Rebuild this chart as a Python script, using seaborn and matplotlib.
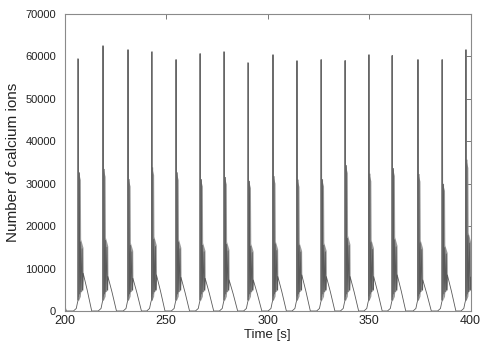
import numpy as np
import pandas as pd
import matplotlib
matplotlib.use("Agg")
import matplotlib.pyplot as plt
import seaborn as sns

# ---- data ----
peak_times = [206.8, 219.0, 231.3, 242.9, 255.0, 266.9, 278.7, 290.6, 302.7,
              314.5, 326.6, 338.3, 349.9, 361.5, 374.1, 386.2, 397.7]
peak_values = [59300, 62400, 61500, 61000, 59200, 60600, 61000, 58400, 60300,
               58900, 59200, 59000, 60300, 60200, 59200, 59200, 61500]
second_values = [32600, 33400, 31000, 33800, 32600, 31000, 31500, 30600, 31700,
                 30900, 31000, 34300, 32300, 33600, 32200, 29900, 35600]
tail_values = [8900, 8100, 7700, 8500, 7900, 7700, 7300, 7300, 8100,
               8500, 8100, 8100, 8100, 8500, 7300, 8500, 8000]

# remnant of the previous burst at the left edge
start_times = [200.0, 200.9]
start_values = [1600, 0]

# burst shape (offsets in s from each main spike)
rise_offsets = [-2.4, -1.0, -0.4, -0.05]
rise_values = [0, 600, 2000, 2600]
block_offsets = [0.1, 1.0, 1.15, 2.3]
block_upper_frac = [1.0, 0.95, 0.52, 0.46]
block_lower_values = [2500, 3500, 4500, 5000]
tail_offsets = [2.4, 3.4, 4.4, 5.4, 6.6]
tail_frac = [1.0, 0.78, 0.55, 0.30, 0.0]

x_ticks = [200, 250, 300, 350, 400]
y_ticks = [0, 10000, 20000, 30000, 40000, 50000, 60000, 70000]

# ---- build trace ----
ts, vs = list(start_times), list(start_values)
for tp, pv, sv, tv in zip(peak_times, peak_values, second_values, tail_values):
    for o, v in zip(rise_offsets, rise_values):
        ts.append(tp + o); vs.append(v)
    ts += [tp, tp + 0.15, tp + 0.55, tp + 0.7, tp + 1.15, tp + 1.3, tp + 1.9, tp + 2.1]
    vs += [pv, 3500, sv, 4000, 0.5 * sv, 4500, 0.45 * sv, 5000]
    for o, f in zip(tail_offsets, tail_frac):
        ts.append(tp + o); vs.append(tv * f)
df = pd.DataFrame({"t": ts, "ions": vs})
df = df[df.t <= 400.5]

sns.set_style("white")
plt.rcParams["font.family"] = ["Liberation Sans", "DejaVu Sans"]

fig = plt.figure(figsize=(4.8, 3.46), dpi=100)
ax = fig.add_axes([64.5 / 480, 35 / 346, 406 / 480, 297 / 346])

# grey blocks of dense oscillation
for tp, sv, tv in zip(peak_times, second_values, tail_values):
    bx = [tp + o for o in block_offsets] + [tp + tail_offsets[0]]
    up = [sv * f for f in block_upper_frac] + [tv]
    lo = block_lower_values + [tv]
    ax.fill_between(bx, lo, up, color="#9a9a9a", lw=0, zorder=1)

sns.lineplot(data=df, x="t", y="ions", estimator=None, sort=False,
             color="#5a5a5a", lw=0.6, ax=ax, zorder=2)
# main spikes
for tp, pv in zip(peak_times, peak_values):
    ax.plot([tp, tp], [2500, pv], color="#6a6a6a", lw=1.1, zorder=3)

ax.set_xlim(200, 400)
ax.set_ylim(0, 70000)
ax.set_xticks(x_ticks)
ax.set_yticks(y_ticks)
ax.set_xticklabels([str(v) for v in x_ticks], fontsize=9)
ax.set_yticklabels([str(v) for v in y_ticks], fontsize=8)
ax.tick_params(direction="in", length=3.5, width=0.7, color="#777777",
               top=True, right=True, labelcolor="#222222")
ax.tick_params(axis="x", pad=3)
ax.tick_params(axis="y", pad=6)
for s in ax.spines.values():
    s.set_visible(True)
    s.set_color("#8a8a8a")
    s.set_linewidth(0.8)
ax.set_xlabel("Time [s]", fontsize=9.5, color="#222222", labelpad=1)
ax.set_ylabel("Number of calcium ions", fontsize=11, color="#222222", labelpad=4)

fig.savefig("out.png", dpi=100)
